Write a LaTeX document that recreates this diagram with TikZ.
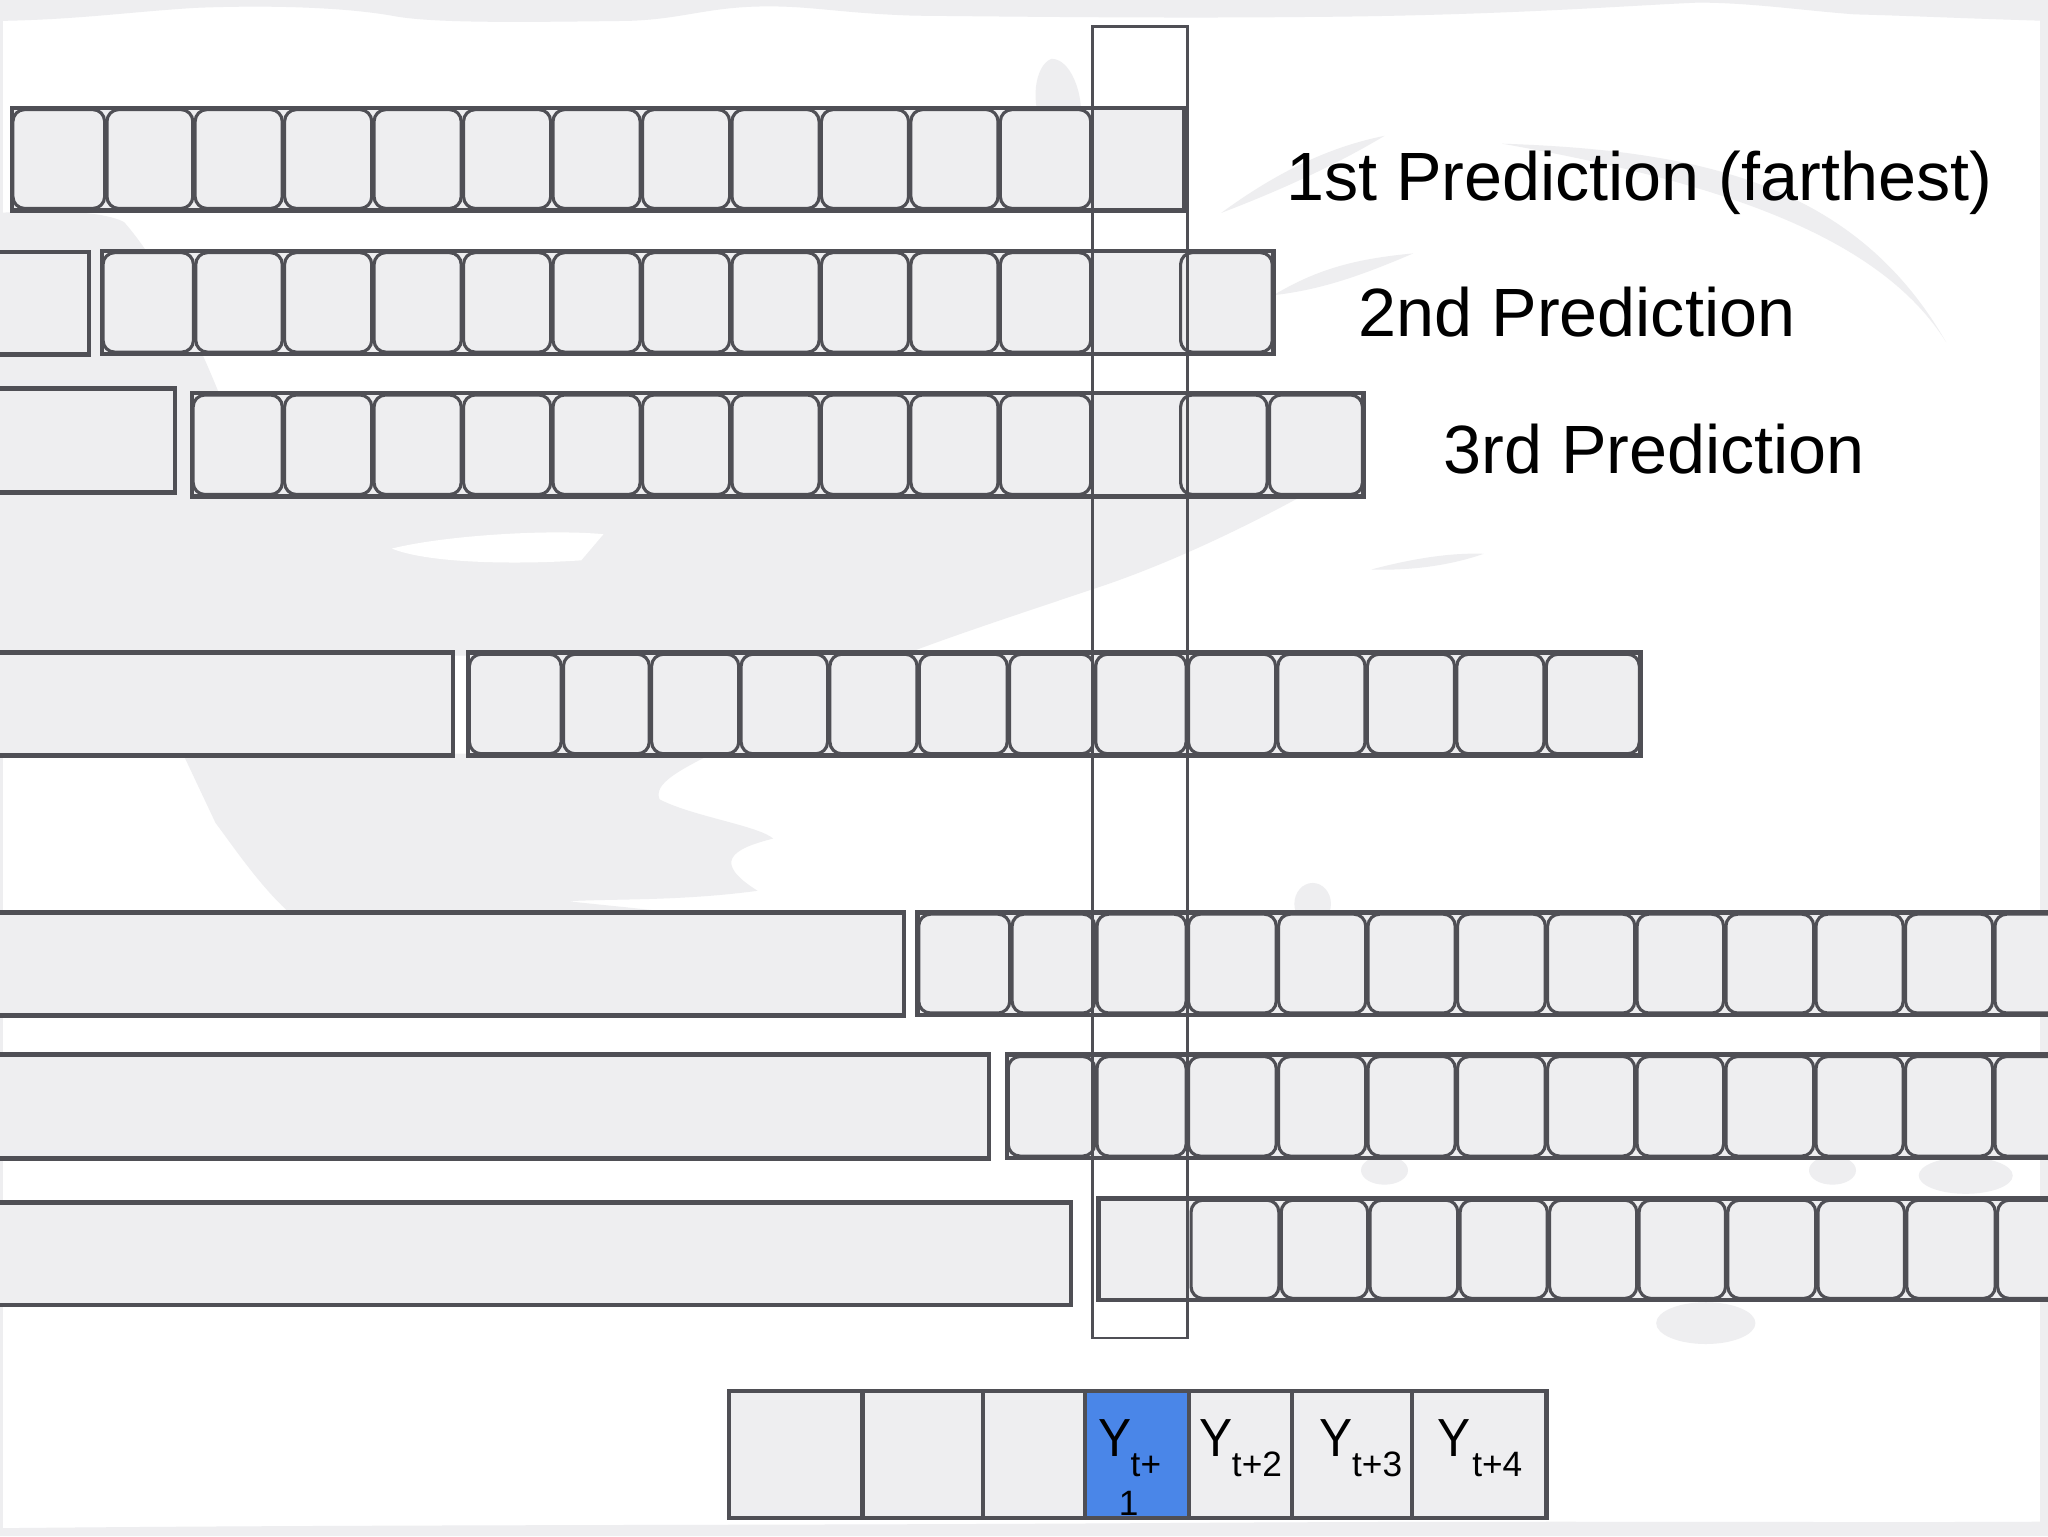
\documentclass[tikz,border=0pt]{standalone}
\usepackage{fontspec}
\usepackage{graphicx}
\setmainfont{Liberation Sans}
\definecolor{stk}{HTML}{4F4F55}
\definecolor{cellfill}{HTML}{EEEEF0}
\definecolor{bgg}{HTML}{EEEEF0}
\definecolor{blu}{HTML}{4A86E8}
\tikzset{
  outerbox/.style={draw=stk, line width=3.4pt, fill=cellfill},
  cellbox/.style={draw=stk, line width=2.4pt, fill=cellfill, rounded corners=9pt},
  hilite/.style={draw=stk, line width=2pt},
  bcell/.style={draw=stk, line width=3.2pt, fill=cellfill},
  lbl/.style={inner sep=0pt, anchor=base west, font=\fontsize{52.3}{60}\selectfont},
  ybig/.style={inner sep=0pt, anchor=base west, font=\fontsize{38}{44}\selectfont},
  ysub/.style={inner sep=0pt, anchor=base west, font=\fontsize{27}{32}\selectfont},
  bgblob/.style={fill=bgg, draw=none},
}
\newcommand\rowcells[3]{%
  \foreach \a/\b in {#3} {\draw[cellbox] (\a+0.9,#1+1.4) rectangle (\b-0.9,#2-1.4);}}
\newcommand\tallY{\scalebox{1}[1.08]{Y}}
\begin{document}
\begin{tikzpicture}[x=1pt,y=-1pt]
\useasboundingbox (0,0) rectangle (1568,1176);
\fill[white] (0,0) rectangle (1568,1176);
% background texture
\fill[bgblob] (0,0) -- (1568,0) -- (1568,16) .. controls (1500,14) and (1460,12) .. (1420,11) .. controls (1380,8) and (1340,2) .. (1300,2) .. controls (1250,4) and (1150,12) .. (1000,13) .. controls (900,14) and (800,13) .. (700,12) .. controls (640,10) and (620,4) .. (580,5) .. controls (540,6) and (520,15) .. (480,16) .. controls (400,17) and (330,18) .. (300,12) .. controls (260,5) and (200,4) .. (150,6) .. controls (100,9) and (60,15) .. (0,16) -- cycle;
\fill[bgblob] (1562,0) rectangle (1568,1176);
\fill[bgblob] (0,0) rectangle (2,1176);
\fill[bgblob] (0,1176) -- (0,1170) .. controls (300,1167) and (600,1168) .. (900,1166) .. controls (1200,1164) and (1400,1166) .. (1568,1165) -- (1568,1176) -- cycle;
\fill[bgblob] (0,163) .. controls (40,160) and (80,162) .. (95,170) .. controls (130,210) and (160,280) .. (175,320) .. controls (190,360) and (200,385) .. (210,382) -- (0,382) -- cycle;
\fill[bgblob] (0,378) -- (1000,378) .. controls (960,400) and (900,430) .. (840,450) .. controls (780,470) and (720,490) .. (690,502) -- (0,502) -- cycle;
\fill[white] (300,420) .. controls (340,410) and (420,405) .. (462,409) -- (445,429) .. controls (400,432) and (330,432) .. (300,420) -- cycle;
\fill[bgblob] (140,577) -- (545,577) .. controls (520,590) and (500,600) .. (505,612) .. controls (530,625) and (580,632) .. (592,642) .. controls (560,650) and (545,660) .. (580,682) .. controls (520,690) and (470,688) .. (435,690) .. controls (480,695) and (520,698) .. (530,702) -- (225,702) .. controls (200,680) and (180,650) .. (165,630) -- cycle;
\fill[bgblob] (935,163) .. controls (980,130) and (1020,112) .. (1060,104) .. controls (1030,122) and (990,142) .. (935,163) -- cycle;
\fill[bgblob] (1150,110) .. controls (1300,115) and (1420,140) .. (1490,262) .. controls (1440,182) and (1320,140) .. (1150,110) -- cycle;
\fill[bgblob] (975,226) .. controls (1010,205) and (1040,198) .. (1082,194) .. controls (1040,212) and (1010,222) .. (975,226) -- cycle;
\fill[bgblob] (1050,436) .. controls (1080,428) and (1110,423) .. (1136,424) .. controls (1110,433) and (1080,437) .. (1050,436) -- cycle;
\fill[bgblob] (800,100) .. controls (788,80) and (792,50) .. (805,45) .. controls (822,45) and (832,80) .. (826,100) -- cycle;
\fill[bgblob] (1306,1013) ellipse (38 and 16);
\fill[bgblob] (1005,692) ellipse (14 and 16);
\fill[bgblob] (1060,896) ellipse (18 and 11);
\fill[bgblob] (1403,896) ellipse (18 and 11);
\fill[bgblob] (1505,900) ellipse (36 and 14);
% row 1
\draw[outerbox] (9,82.5) rectangle (907,161);
\rowcells{82.5}{161}{9/81,81/148.5,148.5/217,217/285.5,285.5/354,354/422.5,422.5/491,491/559.5,559.5/628,628/696.5,696.5/765,765/836}
% row 2
\draw[outerbox] (-10,193) rectangle (68,271.5);
\draw[outerbox] (78,192) rectangle (975,271);
\rowcells{192}{271}{78/149,149/217,217/285.5,285.5/354,354/422.5,422.5/491,491/559.5,559.5/628,628/696.5,696.5/765,765/836,903/975}
% row 3
\draw[outerbox] (-10,297.5) rectangle (134,377);
\draw[outerbox] (147,301) rectangle (1044,380);
\rowcells{301}{380}{147/217,217/285.5,285.5/354,354/422.5,422.5/491,491/559.5,559.5/628,628/696.5,696.5/765,765/836,903/971,971/1044}
% row 4
\draw[outerbox] (-10,499.5) rectangle (347,578.5);
\draw[outerbox] (358.5,499.5) rectangle (1256,578.5);
\rowcells{499.5}{578.5}{358.5/430.5,430.5/498,498/566.5,566.5/634.5,634.5/703,703/772,772/838,838/909,909/977.5,977.5/1046,1046/1114.5,1114.5/1183,1183/1256}
% row 5
\draw[outerbox] (-10,698.5) rectangle (692,777.5);
\draw[outerbox] (702.5,698.5) rectangle (1600,777);
\rowcells{698.5}{777}{702.5/774,774/839,839/909,909/978,978/1046.5,1046.5/1115,1115/1184,1184/1252.5,1252.5/1320.5,1320.5/1389.5,1389.5/1458,1458/1526.5,1526.5/1595}
% row 6
\draw[outerbox] (-10,807.5) rectangle (757,887);
\draw[outerbox] (771,807.5) rectangle (1600,886.5);
\rowcells{807.5}{886.5}{771/839,839/909,909/978,978/1046.5,1046.5/1115,1115/1184,1184/1252.5,1252.5/1320.5,1320.5/1389.5,1389.5/1458,1458/1526.5,1526.5/1595}
% row 7
\draw[outerbox] (-10,920.5) rectangle (820,999);
\draw[outerbox] (841,917.5) rectangle (1600,995.5);
\rowcells{917.5}{995.5}{911/980,980/1048,1048/1117,1117/1185.5,1185.5/1254,1254/1322,1322/1391,1391/1459,1459/1528.5,1528.5/1597}
% highlight column
\draw[hilite] (836.2,20.5) rectangle (909.3,1024.5);
% labels
\node[lbl] (p1) at (984.5,153.6) {1st Prediction (farthest)};
\node[lbl] (p2) at (1040,257.7) {2nd Prediction};
\node[lbl] (p3) at (1105,362.2) {3rd Prediction};
% bottom sequence
\foreach \a/\b in {558/660.3,660.3/752.6,752.6/830.4,910.3/989.4,989.4/1080.8,1080.8/1184}
  {\draw[bcell] (\a,1065) rectangle (\b,1162.5);}
\draw[bcell, fill=blu] (830.4,1065) rectangle (910.3,1162.5);
\node[ybig] (y1) at (841,1115.2) {\tallY};
\node[ysub] (s1) at (865.5,1130.5) {t+};
\node[ysub] (s1b) at (856.5,1160) {1};
\node[ybig] (y2) at (918,1115.2) {\tallY};
\node[ysub] (s2) at (943,1130.5) {t+2};
\node[ybig] (y3) at (1010,1115.2) {\tallY};
\node[ysub] (s3) at (1035,1130.5) {t+3};
\node[ybig] (y4) at (1100.5,1115.2) {\tallY};
\node[ysub] (s4) at (1127,1130.5) {t+4};
\end{tikzpicture}
\end{document}
